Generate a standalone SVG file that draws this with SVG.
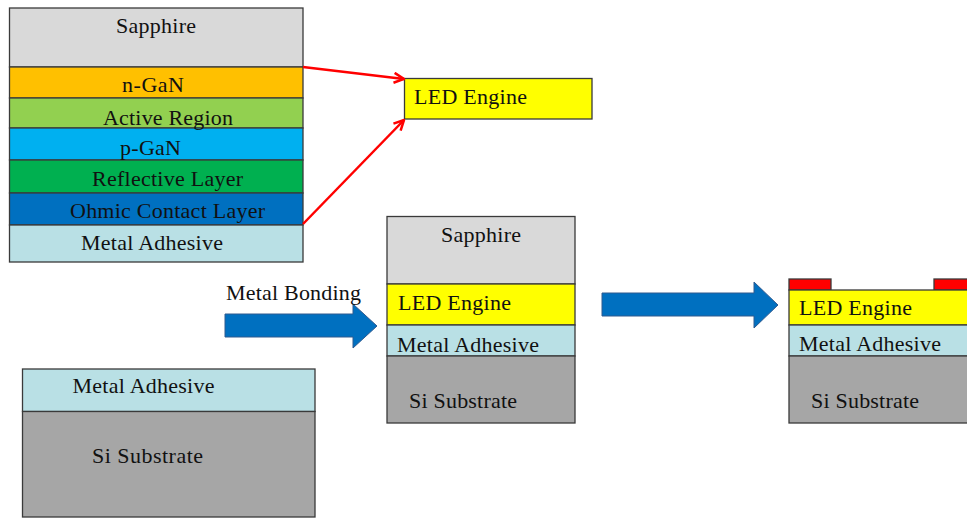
<svg xmlns="http://www.w3.org/2000/svg" width="967" height="518" viewBox="0 0 967 518">
<style>
rect.l{stroke:#3a3a3a;stroke-width:1.3}
text{font-family:'Liberation Serif','Times New Roman','DejaVu Serif',serif;font-size:22px;fill:#111}
.sap{fill:#D9D9D9}.ngan{fill:#FFC000}.act{fill:#92D050}.pgan{fill:#00B0F0}.refl{fill:#00B050}.ohm{fill:#0070C0}.adh{fill:#B9E0E5}.si{fill:#A6A6A6}.led{fill:#FFFF00}.pad{fill:#FF0000}
.blk{fill:#0070C0;stroke:#2F5A8F;stroke-width:1}
.red{stroke:#FF0000;stroke-width:2.5;fill:none}
</style>
<defs>
<marker id="ah" viewBox="0 0 12 12" refX="11" refY="6" markerWidth="12" markerHeight="12" markerUnits="userSpaceOnUse" orient="auto">
<path d="M1,1 L11,6 L1,11" fill="none" stroke="#FF0000" stroke-width="2.5" stroke-linejoin="miter"/>
</marker>
</defs>
<g id="stack-led-wafer">
<rect class="l sap" x="9.5" y="8" width="293.5" height="59"/>
<rect class="l ngan" x="9.5" y="67" width="293.5" height="31"/>
<rect class="l act" x="9.5" y="98" width="293.5" height="30"/>
<rect class="l pgan" x="9.5" y="128" width="293.5" height="32"/>
<rect class="l refl" x="9.5" y="160" width="293.5" height="33"/>
<rect class="l ohm" x="9.5" y="193" width="293.5" height="32"/>
<rect class="l adh" x="9.5" y="225" width="293.5" height="37"/>
<text x="116" y="33" textLength="80">Sapphire</text>
<text x="122" y="92" textLength="62">n-GaN</text>
<text x="103" y="125" textLength="130">Active Region</text>
<text x="120" y="155" textLength="61">p-GaN</text>
<text x="92" y="186" textLength="151">Reflective Layer</text>
<text x="70" y="218" textLength="195">Ohmic Contact Layer</text>
<text x="81" y="250" textLength="142">Metal Adhesive</text>
</g>
<g id="led-engine-label">
<rect class="l led" x="404.5" y="78.5" width="187.5" height="40.5"/>
<text x="414" y="104" textLength="113">LED Engine</text>
</g>
<g id="stack-si-substrate">
<rect class="l adh" x="22.5" y="369" width="292.5" height="42.5"/>
<rect class="l si" x="22.5" y="411.5" width="292.5" height="105.5"/>
<text x="72.5" y="393" textLength="142">Metal Adhesive</text>
<text x="92" y="463" textLength="111">Si Substrate</text>
</g>
<g id="stack-bonded">
<rect class="l sap" x="387" y="216.5" width="188" height="67.5"/>
<rect class="l led" x="387" y="284" width="188" height="41"/>
<rect class="l adh" x="387" y="325" width="188" height="31"/>
<rect class="l si" x="387" y="356" width="188" height="67"/>
<text x="441" y="242" textLength="80">Sapphire</text>
<text x="398" y="310" textLength="113">LED Engine</text>
<text x="397" y="352" textLength="142">Metal Adhesive</text>
<text x="409" y="408" textLength="108">Si Substrate</text>
</g>
<g id="stack-final">
<rect class="l pad" x="789" y="279" width="42" height="11"/>
<rect class="l pad" x="934" y="279" width="40" height="11"/>
<rect class="l led" x="789" y="290" width="185" height="35"/>
<rect class="l adh" x="789" y="325" width="185" height="31"/>
<rect class="l si" x="789" y="356" width="185" height="67"/>
<text x="799" y="315" textLength="113">LED Engine</text>
<text x="799" y="351" textLength="142">Metal Adhesive</text>
<text x="811" y="408" textLength="108">Si Substrate</text>
</g>
<g id="connectors">
<line class="red" x1="303" y1="67" x2="404" y2="79" marker-end="url(#ah)"/>
<line class="red" x1="303" y1="224" x2="404" y2="120" marker-end="url(#ah)"/>
<polygon class="blk" points="225,314 353,314 353,304 377,326 353,348 353,337 225,337"/>
<text x="226" y="300" textLength="135">Metal Bonding</text>
<polygon class="blk" points="602,293 754,293 754,282 778,305 754,328 754,316 602,316"/>
</g>
</svg>
